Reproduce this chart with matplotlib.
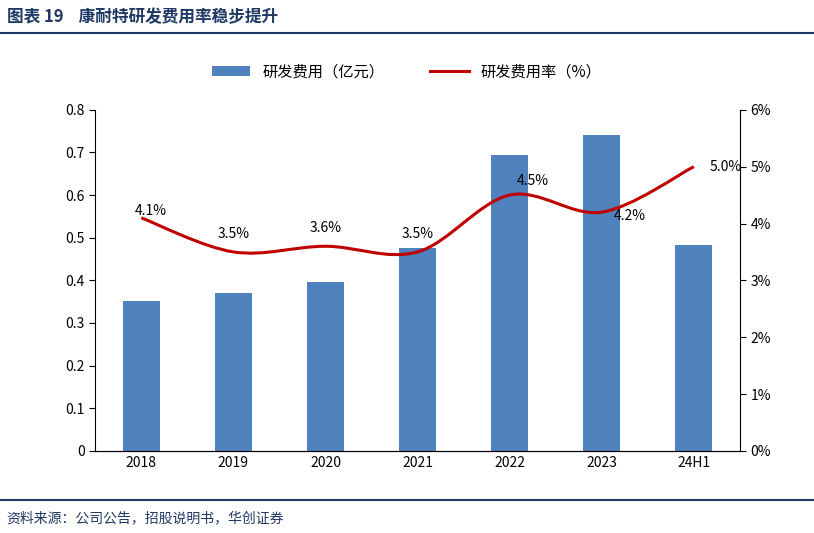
import matplotlib.pyplot as plt
import numpy as np
from matplotlib.path import Path
from matplotlib.patches import PathPatch

plt.rcParams["font.family"] = ["Noto Sans CJK SC", "DejaVu Sans"]

years = ["2018", "2019", "2020", "2021", "2022", "2023", "24H1"]
rd_expense = [0.352, 0.371, 0.395, 0.475, 0.695, 0.740, 0.484]
rd_rate = [4.1, 3.5, 3.6, 3.5, 4.5, 4.2, 5.0]
rate_labels = ["4.1%", "3.5%", "3.6%", "3.5%", "4.5%", "4.2%", "5.0%"]

BLUE = "#4F81BD"
RED = "#C00000"
NAVY = "#1F3864"

fig = plt.figure(figsize=(8.14, 5.33), dpi=100)
ax = fig.add_axes([0.117, 0.154, 0.792, 0.64])
ax2 = ax.twinx()

x = np.arange(len(years))
ax.bar(x, rd_expense, width=0.4, color=BLUE, label="研发费用（亿元）", zorder=2)
ax.set_ylim(0, 0.8)
ax.set_yticks(np.arange(0, 0.81, 0.1))
ax.set_yticklabels(["0"] + [f"{v:.1f}" for v in np.arange(0.1, 0.81, 0.1)])
ax.set_xlim(-0.5, len(years) - 0.5)
ax.set_xticks(x)
ax.set_xticklabels(years)

# smooth curve through data points (Catmull-Rom -> Bezier)
pts = np.column_stack([x, rd_rate]).astype(float)
verts = [pts[0]]
codes = [Path.MOVETO]
for i in range(len(pts) - 1):
    p0 = pts[i - 1] if i > 0 else pts[i]
    p1, p2 = pts[i], pts[i + 1]
    p3 = pts[i + 2] if i + 2 < len(pts) else pts[i + 1]
    c1 = p1 + (p2 - p0) / 6
    c2 = p2 - (p3 - p1) / 6
    verts += [c1, c2, p2]
    codes += [Path.CURVE4] * 3
ax2.add_patch(PathPatch(Path(verts, codes), fill=False, ec=RED, lw=2.2, zorder=3))
ax2.plot([], [], color=RED, lw=2.2, label="研发费用率（%）")
ax2.set_ylim(0, 6)
ax2.set_yticks(range(7))
ax2.set_yticklabels([f"{v}%" for v in range(7)])

offsets = [(0.1, 0.12), (0, 0.32), (0, 0.32), (0, 0.32), (0.25, 0.25), (0.3, -0.06), (0.35, 0.0)]
for xi, yi, lab, (dx, dy) in zip(x, rd_rate, rate_labels, offsets):
    ax2.text(xi + dx, yi + dy, lab, ha="center", va="center", fontsize=10)

for a in (ax, ax2):
    for s in ("top",):
        a.spines[s].set_visible(False)
    a.tick_params(labelsize=10, length=4, direction="out")
ax.spines["right"].set_visible(False)
ax2.spines["left"].set_visible(False)
ax.tick_params(axis="x", length=0)

h1, l1 = ax.get_legend_handles_labels()
h2, l2 = ax2.get_legend_handles_labels()
fig.legend(h1 + h2, l1 + l2, loc="center", bbox_to_anchor=(0.5, 0.865), ncol=2,
           frameon=False, fontsize=11, handlelength=2.5, columnspacing=3)

fig.text(0.008, 0.968, "图表 19    康耐特研发费用率稳步提升", color=NAVY, fontsize=12,
         fontweight="bold", va="center")
fig.add_artist(plt.Line2D([0, 1], [0.938, 0.938], color=NAVY, lw=1.5))
fig.add_artist(plt.Line2D([0, 1], [0.062, 0.062], color=NAVY, lw=1.5))
fig.text(0.008, 0.028, "资料来源：公司公告，招股说明书，华创证券", color=NAVY, fontsize=10,
         style="italic", va="center")

fig.savefig("out.png", dpi=100)
